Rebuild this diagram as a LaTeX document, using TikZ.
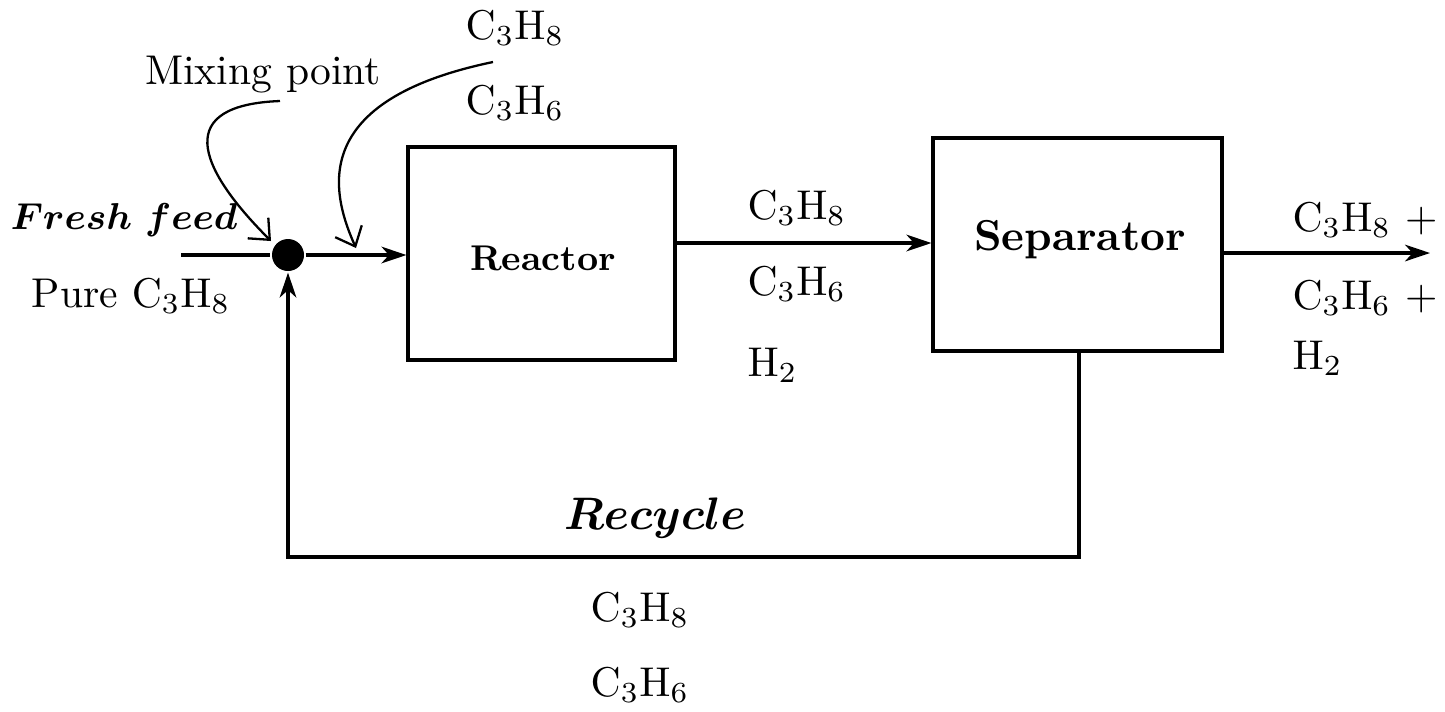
\documentclass[tikz,border=0pt]{standalone}
\usetikzlibrary{arrows.meta}
\begin{document}
\begin{tikzpicture}[x=0.2404pt,y=-0.2404pt,
  line width=0.75pt,
  flow/.style={-{Stealth[length=6pt,width=4pt,inset=1.8pt]}},
  pointer/.style={line width=0.55pt,-{Straight Barb[length=4pt,width=7pt]}},
  unit/.style={draw,line width=0.75pt,inner sep=0pt},
  lbl/.style={inner sep=0pt,anchor=center}]
\useasboundingbox (0,0) rectangle (1445,711);
% boxes
\node[unit,minimum width=267*0.2404pt,minimum height=213*0.2404pt] (reactor) at (541.5,253.5) {};
\node[lbl,font=\fontsize{8.6}{10}\selectfont\bfseries] at (543,258) {Reactor};
\node[unit,minimum width=289*0.2404pt,minimum height=213*0.2404pt] (sep) at (1077.5,244.5) {};
\node[lbl,font=\fontsize{10.4}{12}\selectfont\bfseries] at (1080,240) {Separator};
% mixing point
\node[circle,fill=black,inner sep=0pt,minimum size=32*0.2404pt] (mix) at (288,255) {};
\coordinate (feedin) at (181,255);
\coordinate (outend) at (1430,253);
\coordinate (sepbot) at (1079,351);
\coordinate (rc1) at (1079,557);
\coordinate (rc2) at (288,557);
% connectors
\draw (feedin) -- (mix.west);
\draw[flow] (mix.east) -- (mix.east -| reactor.west);
\draw[flow] (reactor.east |- 0,243) -- (sep.west |- 0,243);
\draw[flow] (sep.east |- 0,253) -- (outend);
\draw[flow] (sepbot) -- (rc1) -- (rc2) -- (mix.south);
% pointer curves
\coordinate (mixtxt) at (280,101);
\coordinate (c3txt) at (493,62);
\draw[pointer] (mixtxt) .. controls (175,105) and (195,165) .. (271,241);
\draw[pointer] (c3txt) .. controls (310,100) and (330,190) .. (356,248);
% texts
\node[lbl] at (263,75) {Mixing point};
\node[lbl] at (515,28) {$\mathrm{C_3H_8}$};
\node[lbl] at (515,103) {$\mathrm{C_3H_6}$};
\node[lbl,font=\fontsize{9.5}{11}\selectfont\boldmath] at (124,220) {$Fresh\ feed$};
\node[lbl] at (131,296) {Pure $\mathrm{C_3H_8}$};
\node[lbl,anchor=west] at (746,208) {$\mathrm{C_3H_8}$};
\node[lbl,anchor=west] at (746,284) {$\mathrm{C_3H_6}$};
\node[lbl,anchor=west] at (746,365) {$\mathrm{H_2}$};
\node[lbl,anchor=west] at (1291,220) {$\mathrm{C_3H_8}$ +};
\node[lbl,anchor=west] at (1291,298) {$\mathrm{C_3H_6}$ +};
\node[lbl,anchor=west] at (1291,358) {$\mathrm{H_2}$};
\node[lbl,font=\fontsize{11}{13}\selectfont\boldmath] at (655,518) {$Recycle$};
\node[lbl] at (640,610) {$\mathrm{C_3H_8}$};
\node[lbl] at (640,685) {$\mathrm{C_3H_6}$};
\end{tikzpicture}
\end{document}
